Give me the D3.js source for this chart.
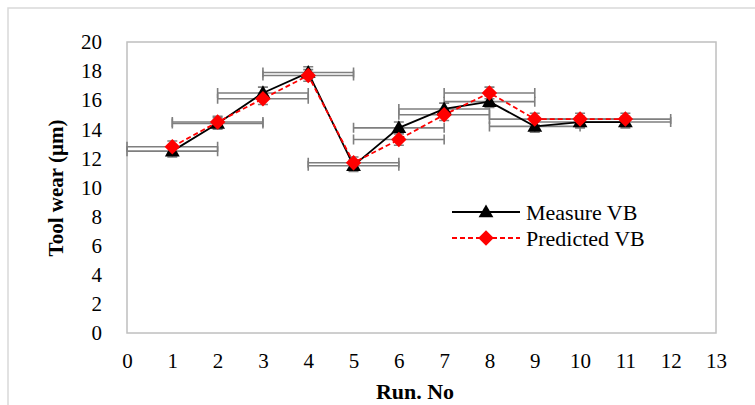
<!DOCTYPE html>
<html>
<head>
<meta charset="utf-8">
<script src="https://cdn.jsdelivr.net/npm/d3@7"></script>
<style>
body { margin: 0; background: #fff; }
text { font-family: "Liberation Serif", "Times New Roman", serif; fill: #000; }
</style>
</head>
<body>
<div id="chart"></div>
<script>
// Data
const runs = [1, 2, 3, 4, 5, 6, 7, 8, 9, 10, 11];
const measured = [12.5, 14.4, 16.5, 17.9, 11.5, 14.1, 15.4, 15.9, 14.2, 14.5, 14.5];
const predicted = [12.8, 14.5, 16.1, 17.7, 11.7, 13.3, 15.0, 16.5, 14.7, 14.7, 14.7];
const xTicks = d3.range(0, 14);
const yTicks = d3.range(0, 21, 2);
const xErr = 1;
const yErr = 0.4;

const W = 755, H = 405;
const serif = "'Liberation Serif', 'Times New Roman', serif";
const svg = d3.select("#chart").append("svg")
  .attr("width", W)
  .attr("height", H);

// outer chart frame
svg.append("path")
  .attr("d", `M8,${H} L8,8 L${W},8`)
  .attr("fill", "none")
  .attr("stroke", "#d9d9d9")
  .attr("stroke-width", 1.5);

const x = d3.scaleLinear().domain([0, 13]).range([127, 716]);
const y = d3.scaleLinear().domain([0, 20]).range([333, 42]);

// plot area border
svg.append("rect")
  .attr("x", x(0)).attr("y", y(20))
  .attr("width", x(13) - x(0)).attr("height", y(0) - y(20))
  .attr("fill", "none")
  .attr("stroke", "#bfbfbf")
  .attr("stroke-width", 1.5);

// axes (labels only)
svg.append("g")
  .attr("transform", `translate(${x(0)},0)`)
  .call(d3.axisLeft(y).tickValues(yTicks).tickSize(0).tickPadding(25))
  .attr("font-family", serif)
  .attr("font-size", 21)
  .call(g => g.select(".domain").remove());

svg.append("g")
  .attr("transform", `translate(0,${y(0)})`)
  .call(d3.axisBottom(x).tickValues(xTicks).tickSize(0).tickPadding(20))
  .attr("font-family", serif)
  .attr("font-size", 21)
  .call(g => g.select(".domain").remove());

// axis titles
svg.append("text")
  .attr("transform", `translate(56,188) rotate(-90)`)
  .attr("text-anchor", "middle")
  .attr("dy", "0.35em")
  .style("font-size", "21px")
  .style("font-weight", "bold")
  .text("Tool wear (µm)");

svg.append("text")
  .attr("x", 415).attr("y", 391)
  .attr("text-anchor", "middle")
  .attr("dy", "0.35em")
  .style("font-size", "22px")
  .style("font-weight", "bold")
  .text("Run. No");

// error bars
const errColor = "#7f7f7f";
const series = [
  {name: "Measure VB", values: measured},
  {name: "Predicted VB", values: predicted}
];
const errG = svg.append("g")
  .attr("stroke", errColor)
  .attr("stroke-width", 1.6)
  .attr("fill", "none");

series.forEach(s => {
  runs.forEach((r, i) => {
    const v = s.values[i];
    const x0 = x(r - xErr), x1 = x(r + xErr), yy = y(v);
    errG.append("path")
      .attr("d", `M${x0},${yy}H${x1}M${x0},${yy - 5}V${yy + 5}M${x1},${yy - 5}V${yy + 5}`);
    const y0 = y(v - yErr), y1 = y(v + yErr), xx = x(r);
    errG.append("path")
      .attr("d", `M${xx},${y0}V${y1}M${xx - 5},${y0}H${xx + 5}M${xx - 5},${y1}H${xx + 5}`);
  });
});

// lines
const line = d3.line()
  .x((d, i) => x(runs[i]))
  .y(d => y(d));

svg.append("path")
  .datum(measured)
  .attr("d", line)
  .attr("fill", "none")
  .attr("stroke", "#000")
  .attr("stroke-width", 1.8);

svg.append("path")
  .datum(predicted)
  .attr("d", line)
  .attr("fill", "none")
  .attr("stroke", "#ff0000")
  .attr("stroke-width", 1.8)
  .attr("stroke-dasharray", "5,3");

// markers
const tri = d3.symbol().type(d3.symbolTriangle).size(95);
const dia = d3.symbol().type(d3.symbolSquare).size(120); // rotated 45deg below

svg.selectAll(".tri")
  .data(measured)
  .join("path")
  .attr("class", "tri")
  .attr("d", tri)
  .attr("transform", (d, i) => `translate(${x(runs[i])},${y(d) + 1})`)
  .attr("fill", "#000");

svg.selectAll(".dia")
  .data(predicted)
  .join("path")
  .attr("class", "dia")
  .attr("d", dia)
  .attr("transform", (d, i) => `translate(${x(runs[i])},${y(d)}) rotate(45)`)
  .attr("fill", "#ff0000");

// legend
const legend = svg.append("g").attr("transform", "translate(452,212)");
legend.append("line")
  .attr("x1", 0).attr("x2", 68).attr("y1", 0).attr("y2", 0)
  .attr("stroke", "#000").attr("stroke-width", 1.8);
legend.append("path").attr("d", tri).attr("transform", "translate(34,1)").attr("fill", "#000");
legend.append("text").attr("x", 74).attr("y", 0).attr("dy", "0.35em")
  .style("font-size", "22px").text("Measure VB");

legend.append("line")
  .attr("x1", 0).attr("x2", 68).attr("y1", 26).attr("y2", 26)
  .attr("stroke", "#ff0000").attr("stroke-width", 1.8).attr("stroke-dasharray", "5,3");
legend.append("path").attr("d", dia).attr("transform", "translate(34,26) rotate(45)").attr("fill", "#ff0000");
legend.append("text").attr("x", 74).attr("y", 26).attr("dy", "0.35em")
  .style("font-size", "22px").text("Predicted VB");
</script>
</body>
</html>
